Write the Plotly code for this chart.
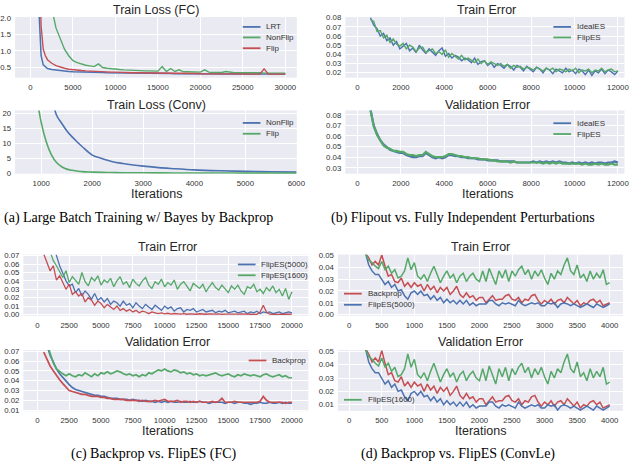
import plotly.graph_objects as go

W, H = 640, 467
BLUE, GREEN, RED = "#4C72B0", "#55A868", "#C44E52"
BG = "#EAEAF2"
SANS = "Liberation Sans, Arial, sans-serif"
SERIF = "Liberation Serif, Times New Roman, serif"

# ---- (a) Train Loss (FC)
fc_iters = [1000, 1250, 1500, 1750, 2000, 2500, 3000, 3500, 4000, 4500] + list(range(5000, 30001, 500))
fc_lrt = [2.2, 0.85, 0.57, 0.50, 0.46, 0.43, 0.41, 0.39, 0.38, 0.37,
          0.36, 0.36, 0.35, 0.35, 0.35, 0.34, 0.34, 0.34, 0.33, 0.33,
          0.33, 0.33, 0.32, 0.32, 0.32, 0.32, 0.32, 0.31, 0.31, 0.31,
          0.31, 0.31, 0.31, 0.31, 0.30, 0.30, 0.30, 0.30, 0.30, 0.30,
          0.30, 0.30, 0.30, 0.30, 0.30, 0.29, 0.29, 0.29, 0.29, 0.29,
          0.29, 0.29, 0.29, 0.29, 0.29, 0.29, 0.29, 0.29, 0.29, 0.29, 0.29]
fc_nonflip = [9.0, 8.0, 7.0, 5.5, 4.2, 2.3, 1.7, 1.35, 1.05, 0.85,
              0.70, 0.64, 0.59, 0.56, 0.54, 0.52, 0.60, 0.49, 0.47, 0.45,
              0.44, 0.43, 0.42, 0.41, 0.41, 0.40, 0.40, 0.39, 0.39, 0.38,
              0.38, 0.52, 0.37, 0.46, 0.37, 0.42, 0.36, 0.36, 0.36, 0.35,
              0.35, 0.42, 0.35, 0.34, 0.34, 0.34, 0.37, 0.34, 0.33, 0.33,
              0.33, 0.33, 0.35, 0.33, 0.33, 0.32, 0.32, 0.34, 0.32, 0.32, 0.32]
fc_flip = [4.0, 1.75, 1.05, 0.85, 0.73, 0.62, 0.55, 0.50, 0.47, 0.44,
           0.42, 0.41, 0.40, 0.39, 0.38, 0.37, 0.37, 0.36, 0.36, 0.35,
           0.35, 0.34, 0.34, 0.34, 0.33, 0.33, 0.33, 0.33, 0.32, 0.32,
           0.32, 0.32, 0.32, 0.31, 0.31, 0.31, 0.31, 0.31, 0.31, 0.31,
           0.30, 0.30, 0.30, 0.30, 0.30, 0.30, 0.30, 0.30, 0.30, 0.30,
           0.30, 0.29, 0.29, 0.29, 0.29, 0.45, 0.29, 0.29, 0.29, 0.29, 0.29]

# ---- (a) Train Loss (Conv)
conv_iters = [900, 1000, 1100, 1200, 1300, 1400, 1500, 1600, 1700, 1800, 2000, 2200,
              2400, 2600, 2800, 3000, 3300, 3600, 4000, 4500, 5000, 5500, 6000]
conv_nonflip = [60, 45, 34, 26, 19.5, 16.8, 14.3, 12.3, 10.6, 9.0, 6.1, 4.9,
                3.9, 3.3, 2.8, 2.4, 1.9, 1.55, 1.15, 0.85, 0.65, 0.5, 0.4]
conv_flip = [27, 17, 10.5, 6.2, 3.6, 2.2, 1.4, 1.0, 0.75, 0.55, 0.4, 0.3,
             0.25, 0.2, 0.18, 0.16, 0.14, 0.12, 0.1, 0.08, 0.07, 0.06, 0.05]

# ---- (b) Flipout vs. fully independent perturbations
es_iters = list(range(600, 12001, 150))
ideal_train = [.080, .072, .068, .060, .063, .055, .058, .050, .054, .046,
               .049, .052, .044, .047, .042, .050, .045, .041, .046, .043,
               .039, .044, .047, .038, .041, .036, .039, .037, .033, .036,
               .034, .031, .036, .029, .032, .033, .028, .031, .026, .030,
               .028, .025, .029, .027, .023, .028, .026, .022, .027, .024,
               .021, .026, .024, .020, .025, .023, .019, .024, .022, .020,
               .025, .021, .023, .019, .024, .022, .018, .023, .017, .022,
               .020, .024, .019, .023, .021, .018, .022]
flip_train = [.078, .076, .065, .066, .058, .061, .053, .057, .051, .049,
              .052, .046, .050, .048, .043, .047, .048, .042, .044, .046,
              .041, .043, .040, .045, .037, .041, .038, .035, .039, .034,
              .036, .033, .031, .035, .030, .033, .029, .032, .030, .028,
              .030, .027, .029, .025, .028, .026, .027, .024, .026, .025,
              .023, .026, .024, .022, .025, .023, .025, .021, .024, .023,
              .021, .024, .022, .025, .020, .023, .022, .024, .020, .023,
              .022, .025, .021, .023, .024, .021, .022]
ideal_val = [.085, .070, .062, .056, .052, .049, .047, .046, .045, .044,
             .044, .042, .041, .040, .040, .041, .041, .044, .042, .040,
             .039, .040, .039, .040, .042, .042, .041, .041, .040, .040,
             .039, .039, .039, .038, .038, .038, .037, .037, .037, .037,
             .036, .036, .036, .036, .036, .035, .035, .035, .035, .035,
             .036, .035, .036, .035, .036, .035, .036, .035, .036, .035,
             .035, .034, .035, .034, .035, .034, .035, .034, .035, .034,
             .035, .035, .034, .035, .035, .036, .035]
flip_val = [.084, .069, .061, .056, .051, .049, .048, .046, .046, .045,
            .045, .043, .042, .042, .041, .042, .042, .045, .043, .041,
            .040, .040, .040, .041, .043, .043, .042, .041, .041, .040,
            .040, .039, .039, .039, .038, .038, .038, .037, .037, .036,
            .036, .036, .036, .035, .036, .035, .035, .035, .035, .035,
            .035, .035, .035, .034, .035, .034, .035, .034, .035, .034,
            .034, .034, .034, .034, .034, .033, .034, .033, .033, .034,
            .033, .034, .033, .033, .034, .033, .033]

# ---- (c) Backprop vs. FlipES (FC)
c_iters = list(range(500, 20001, 250))
c_bp_train = [.072, .063, .052, .058, .041, .046, .037, .030, .036, .024,
              .027, .022, .025, .015, .020, .017, .011, .016, .013, .008,
              .012, .009, .006, .010, .005, .007, .004, .006, .003, .005,
              .002, .004, .003, .001, .003, .002, .001, .002, .0008, .0015,
              .0005, .0012, .0006, .0004, .001, .0003, .0008, .0005, .0003, .0009,
              .0004, .0003, .0007, .0003, .0005, .0008, .0002, .0005, .0003, .0006,
              .0002, .0004, .0006, .0002, .0004, .0003, .0005, .0002, .003, .011,
              .003, .0004, .0002, .0005, .0003, .0002, .0005, .0003, .0004]
c_f5000_train = [.12, .12, .11, .09, .070, .058, .049, .040, .034, .036,
                 .026, .031, .022, .028, .024, .018, .025, .017, .020, .015,
                 .019, .012, .016, .014, .010, .016, .011, .013, .008, .014,
                 .010, .007, .012, .009, .006, .011, .008, .005, .010, .007,
                 .009, .004, .007, .008, .003, .006, .005, .007, .003, .005,
                 .006, .003, .004, .005, .002, .004, .003, .005, .002, .003,
                 .004, .002, .003, .004, .001, .003, .002, .004, .001, .003,
                 .002, .003, .001, .002, .003, .001, .002, .003, .002]
c_f1600_train = [.10, .09, .075, .064, .058, .050, .044, .052, .038, .045,
                 .041, .036, .050, .039, .034, .044, .040, .046, .035, .041,
                 .038, .043, .033, .040, .045, .036, .039, .032, .042, .037,
                 .034, .040, .044, .035, .031, .039, .036, .042, .033, .038,
                 .035, .041, .030, .036, .039, .033, .028, .037, .034, .031,
                 .036, .027, .033, .038, .032, .029, .035, .031, .026, .034,
                 .030, .035, .028, .024, .033, .031, .036, .027, .030, .025,
                 .032, .028, .034, .026, .030, .022, .031, .018, .027]
c_bp_val = [.069, .061, .055, .050, .045, .041, .037, .033, .030, .029,
            .028, .027, .026, .026, .025, .024, .024, .024, .023, .023,
            .022, .022, .021, .021, .021, .021, .020, .020, .020, .020,
            .019, .020, .019, .019, .019, .020, .019, .020, .021, .019,
            .019, .019, .020, .018, .019, .019, .018, .019, .018, .019,
            .018, .018, .018, .019, .018, .019, .022, .018, .018, .018,
            .019, .018, .018, .018, .018, .018, .018, .018, .019, .024,
            .020, .018, .018, .018, .018, .018, .017, .018, .018]
c_f5000_val = [.095, .076, .066, .058, .052, .047, .043, .039, .036, .033,
               .031, .030, .029, .028, .027, .026, .025, .025, .024, .024,
               .023, .022, .022, .022, .021, .021, .021, .020, .021, .020,
               .020, .019, .020, .019, .019, .018, .019, .018, .019, .018,
               .019, .018, .018, .019, .018, .018, .019, .018, .018, .019,
               .018, .018, .017, .018, .018, .018, .018, .017, .018, .018,
               .017, .018, .018, .017, .017, .016, .017, .017, .018, .017,
               .017, .018, .017, .017, .018, .017, .018, .017, .017]
c_f1600_val = [.10, .079, .068, .058, .052, .049, .047, .045, .047, .045,
               .044, .046, .045, .048, .046, .044, .047, .045, .048, .047,
               .049, .047, .048, .050, .049, .047, .046, .047, .045, .046,
               .044, .046, .045, .048, .047, .049, .051, .050, .052, .050,
               .049, .051, .050, .048, .049, .047, .048, .046, .047, .045,
               .046, .045, .046, .047, .048, .046, .045, .046, .047, .045,
               .044, .046, .045, .047, .046, .045, .046, .045, .044, .046,
               .047, .045, .044, .045, .046, .044, .045, .043, .043]

# ---- (d) Backprop vs. FlipES (ConvLe)
le_iters = list(range(250, 4001, 50))
le_bp = [.052, .048, .042, .045, .042, .0505, .041, .0325, .034, .028,
         .027, .031, .024, .027, .023, .027, .024, .0255, .020, .0255,
         .021, .024, .0185, .023, .020, .023, .017, .020, .024, .017,
         .0145, .0185, .0145, .016, .012, .0145, .0145, .010, .013, .016,
         .012, .013, .013, .016, .017, .013, .012, .0145, .010, .013,
         .012, .016, .017, .012, .009, .012, .010, .013, .009, .012,
         .013, .010, .0145, .012, .009, .012, .0075, .010, .009, .012,
         .013, .010, .012, .0075, .009, .010]
le_f5000 = [.052, .042, .037, .034, .034, .030, .0255, .028, .023, .0255,
            .020, .021, .016, .013, .0185, .020, .017, .020, .016, .017,
            .013, .016, .012, .0145, .010, .013, .010, .012, .009, .012,
            .009, .012, .008, .010, .0075, .009, .009, .009, .012, .012,
            .009, .0075, .010, .009, .010, .009, .0075, .012, .009, .0075,
            .009, .010, .009, .010, .0075, .0075, .010, .009, .010, .006,
            .009, .010, .009, .0075, .009, .0075, .006, .0075, .009, .0075,
            .006, .009, .0075, .006, .0075, .009]
le_f1600 = [.052, .046, .044, .041, .039, .045, .038, .041, .035, .038,
            .031, .0325, .037, .048, .038, .044, .0325, .030, .034, .028,
            .035, .041, .034, .027, .0325, .037, .031, .034, .027, .0325,
            .035, .028, .0325, .035, .030, .028, .037, .028, .039, .0325,
            .0255, .037, .031, .038, .028, .037, .0325, .038, .041, .034,
            .038, .030, .037, .0325, .038, .031, .0255, .035, .030, .037,
            .034, .042, .048, .037, .034, .042, .031, .034, .028, .037,
            .030, .035, .031, .038, .0255, .027]


def fx(p):
    return p / W


def fy(p):
    return 1 - p / H


fig = go.Figure()

# axis suffix, pixel box (left, top, right, bottom), x range, x step, y range, y step, y format
panels = [
    ("", (13.3, 13.3, 300, 75), [-1816, 31354], 5000, [0.18, 2.03], 0.5, ".1f"),
    ("2", (13.3, 108.3, 300, 172.7), [487, 6010], 1000, [-0.15, 21.1], 5, "d"),
    ("3", (349.3, 13.3, 633.3, 75), [-561, 12299], 2000, [0.0146, 0.0807], 0.01, ".2f"),
    ("4", (349.3, 108.3, 633.3, 172.7), [-561, 12299], 2000, [0.0244, 0.0841], 0.01, ".2f"),
    ("5", (21.7, 255, 311.7, 317.3), [-1104, 21290], 2500, [-0.0016, 0.0712], 0.01, ".2f"),
    ("6", (21.7, 352, 311.7, 414.3), [-1104, 21290], 2500, [0.0089, 0.0713], 0.01, ".2f"),
    ("7", (341.7, 255, 631.7, 317.3), [-175, 4202], 500, [-0.0011, 0.0508], 0.01, ".2f"),
    ("8", (341.7, 352, 631.7, 414), [-175, 4202], 500, [0.0054, 0.051], 0.01, ".2f"),
]

tickfont = dict(family=SANS, size=7.8, color="#333333")
for s, (l, t, r, b), xr, xd, yr, yd, yf in panels:
    fig.layout["xaxis" + s] = dict(
        domain=[fx(l), fx(r)], anchor="y" + s, range=xr, tick0=0, dtick=xd,
        tickformat="d", showgrid=True, gridcolor="white", gridwidth=1.1,
        zeroline=False, showline=False, ticks="", tickfont=tickfont,
        ticklabelstandoff=3)
    fig.layout["yaxis" + s] = dict(
        domain=[fy(b), fy(t)], anchor="x" + s, range=yr, tick0=0, dtick=yd,
        tickformat=yf, showgrid=True, gridcolor="white", gridwidth=1.1,
        zeroline=False, showline=False, ticks="", tickfont=tickfont,
        ticklabelstandoff=3)


def add(s, x, y, color, width=1.3, shape="linear"):
    fig.add_trace(go.Scatter(
        x=x, y=y, mode="lines", line=dict(color=color, width=width, shape=shape),
        xaxis="x" + s, yaxis="y" + s, showlegend=False, hoverinfo="skip"))


add("", fc_iters, fc_lrt, BLUE, 1.5)
add("", fc_iters, fc_nonflip, GREEN, 1.4)
add("", fc_iters, fc_flip, RED, 1.4)
add("2", conv_iters, conv_nonflip, BLUE, 1.6, "spline")
add("2", conv_iters, conv_flip, GREEN, 1.6, "spline")
add("3", es_iters, ideal_train, BLUE, 1.4)
add("3", es_iters, flip_train, GREEN, 1.4)
add("4", es_iters, ideal_val, BLUE, 2.2)
add("4", es_iters, flip_val, GREEN, 2.2)
add("5", c_iters, c_f5000_train, BLUE, 1.3)
add("5", c_iters, c_f1600_train, GREEN, 1.3)
add("5", c_iters, c_bp_train, RED, 1.3)
add("6", c_iters, c_f5000_val, BLUE, 1.7)
add("6", c_iters, c_f1600_val, GREEN, 1.7)
add("6", c_iters, c_bp_val, RED, 1.7)
add("7", le_iters, le_bp, RED, 1.5)
add("7", le_iters, le_f5000, BLUE, 1.5)
add("7", le_iters, le_f1600, GREEN, 1.5)
add("8", le_iters, le_bp, RED, 1.5)
add("8", le_iters, le_f5000, BLUE, 1.5)
add("8", le_iters, le_f1600, GREEN, 1.5)

annotations = []
shapes = []


def text(s, x, y, size, family=SANS, color="#262626", anchor="center", yanchor="middle"):
    annotations.append(dict(
        text=s, x=fx(x), y=fy(y), xref="paper", yref="paper", showarrow=False,
        xanchor=anchor, yanchor=yanchor, font=dict(family=family, size=size, color=color)))


# subplot titles
for s, x, y in [("Train Loss (FC)", 157, 6), ("Train Loss (Conv)", 157, 103),
                ("Train Error", 493, 6), ("Validation Error", 494, 103),
                ("Train Error", 168, 247), ("Validation Error", 168, 344),
                ("Train Error", 487, 247), ("Validation Error", 487, 344)]:
    text(s, x, y, 12.5)

for x, y in [(157, 193), (494, 193), (168, 434), (487, 434)]:
    text("Iterations", x, y, 12.5)

for s, x, y in [("(a) Large Batch Training w/ Bayes by Backprop", 139, 218),
                ("(b) Flipout vs. Fully Independent Perturbations", 469, 218)]:
    text(s, x, y, 14, SERIF, "black")
for s, x in [("(c) Backprop vs. FlipES (FC)", 155), ("(d) Backprop vs. FlipES (ConvLe)", 464)]:
    text(s, x, 468, 14, SERIF, "black", yanchor="bottom")

# legends
legend_items = [
    ("LRT", BLUE, 267, 23.3), ("NonFlip", GREEN, 267, 34), ("Flip", RED, 267, 45),
    ("NonFlip", BLUE, 267, 121), ("Flip", GREEN, 267, 132),
    ("IdealES", BLUE, 583, 23.3), ("FlipES", GREEN, 583, 34),
    ("IdealES", BLUE, 583, 121.3), ("FlipES", GREEN, 583, 132.3),
    ("FlipES(5000)", BLUE, 262, 265), ("FlipES(1600)", GREEN, 262, 276),
    ("Backprop", RED, 273, 362.7),
    ("Backprop", RED, 370, 294.7), ("FlipES(5000)", BLUE, 370, 306),
    ("FlipES(1600)", GREEN, 370, 402.7),
]
for s, c, x, y in legend_items:
    shapes.append(dict(type="line", xref="paper", yref="paper",
                       x0=fx(x - 22), x1=fx(x - 4), y0=fy(y), y1=fy(y),
                       line=dict(color=c, width=1.8)))
    text(s, x, y, 8, SANS, "#333333", "left")

fig.update_layout(
    width=W, height=H, margin=dict(l=0, r=0, t=0, b=0),
    paper_bgcolor="white", plot_bgcolor=BG,
    annotations=annotations, shapes=shapes, showlegend=False,
)

# the page body has a default 8px margin; drop it so the figure sits at the corner
fig.write_html("out.html", config={"displayModeBar": False},
               post_script="document.body.style.margin='0';")
